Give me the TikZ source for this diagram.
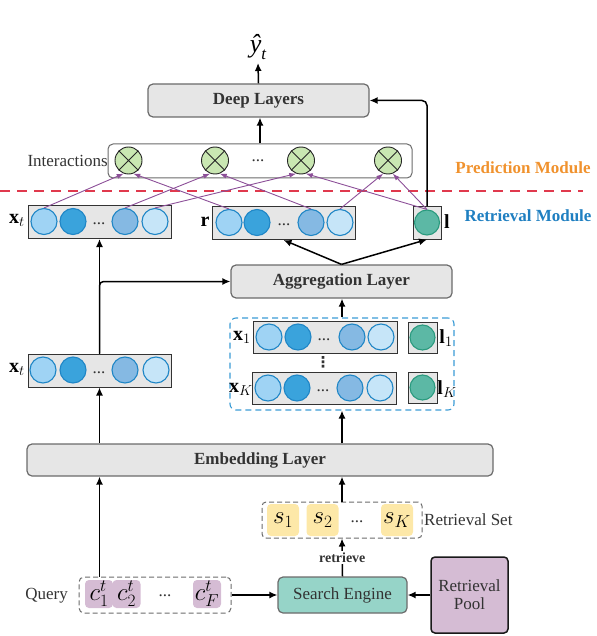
\documentclass[tikz,border=0pt]{standalone}
\usepackage{fontspec}
\setmainfont{Liberation Serif}
\newfontfamily\dejavu{DejaVu Sans}
\usetikzlibrary{arrows.meta,calc}
\definecolor{boxfill}{HTML}{E6E6E6}
\definecolor{boxdraw}{HTML}{6B6B6B}
\definecolor{txt}{HTML}{333333}
\definecolor{cA}{HTML}{9FD3F4}
\definecolor{cB}{HTML}{3AA3DC}
\definecolor{cC}{HTML}{85B9E3}
\definecolor{cD}{HTML}{C6E5F8}
\definecolor{cBorder}{HTML}{1F86C6}
\definecolor{gFill}{HTML}{5CB8A5}
\definecolor{gBorder}{HTML}{2A9A7E}
\definecolor{oFill}{HTML}{C9E7B2}
\definecolor{purp}{HTML}{8C4F98}
\definecolor{redd}{HTML}{E0394D}
\definecolor{orng}{HTML}{F0922E}
\definecolor{blu}{HTML}{1F7FC1}
\definecolor{dblu}{HTML}{3A9BD5}
\definecolor{seFill}{HTML}{96D4C8}
\definecolor{plFill}{HTML}{D5BCD4}
\definecolor{sFill}{HTML}{FDE8A8}
\newcommand\fs{\fontsize{17}{20}\selectfont}
\tikzset{
  layer/.style={draw=boxdraw, fill=boxfill, rounded corners=5pt, line width=1.2pt, font=\fs\bfseries, text=txt, inner sep=0pt},
  vbox/.style={draw=txt, fill=boxfill, line width=1pt, inner sep=0pt},
  vc/.style={circle, draw=cBorder, line width=1.1pt, minimum size=26pt, inner sep=0pt},
  gc/.style={circle, draw=gBorder, fill=gFill, line width=1.1pt, minimum size=25pt, inner sep=0pt},
  oc/.style={circle, draw=black!85, fill=oFill, line width=0.9pt, minimum size=27pt, inner sep=0pt},
  lbl/.style={font=\fs, text=txt, inner sep=0pt},
  mlbl/.style={font=\fontsize{20}{22}\selectfont, text=black, inner sep=0pt},
  arr/.style={line width=1.5pt, -{Latex[length=8pt,width=7pt]}},
  parr/.style={draw=purp, line width=0.9pt, -{Latex[length=7pt,width=5pt]}},
  dots/.style={font=\fs, text=txt, inner sep=0pt},
  sbox/.style={fill=sFill, rounded corners=4pt, minimum width=32pt, minimum height=32pt, inner sep=0pt, font=\fontsize{26}{28}\selectfont},
  cbox/.style={fill=plFill, rounded corners=4pt, minimum width=28pt, minimum height=28pt, inner sep=0pt, font=\fontsize{24}{26}\selectfont},
}
\begin{document}
\begin{tikzpicture}[x=1pt,y=-1pt]
\useasboundingbox (0,0) rectangle (596,636);

% ---------- top ----------
\node[mlbl, font=\fontsize{26}{28}\selectfont\itshape] (yhat) at (258,47) {ŷ\raisebox{-0.25em}{\fontsize{17}{17}\selectfont\itshape t}};
\node[layer, minimum width=221pt, minimum height=33pt] (deep) at (258.5,100.5) {Deep Layers};

\node[draw=boxdraw, fill=white, rounded corners=5pt, line width=1pt, minimum width=304pt, minimum height=34pt] (inter) at (260,161) {};
\node[lbl, anchor=east] (interl) at (108,161) {Interactions};
\node[oc] (o1) at (128.5,160.5) {};
\node[oc] (o2) at (215,160.5) {};
\node[oc] (o3) at (301,160.5) {};
\node[oc] (o4) at (388,160.5) {};
\foreach \o in {o1,o2,o3,o4}{
  \draw[line width=0.9pt, black!85] (\o.north east) -- (\o.south west) (\o.north west) -- (\o.south east);
}
\node[dots] (idots) at (258,161) {...};

% prediction / retrieval separator
\coordinate (dl) at (0,191);
\coordinate (dr) at (583,191);
\draw[redd, line width=1.2pt, dash pattern=on 10pt off 7pt] (dl) -- (dr);
\node[font=\fs\bfseries, text=orng, inner sep=0pt] (pm) at (523,168) {Prediction Module};
\node[font=\fs\bfseries, text=blu, inner sep=0pt] (rm) at (528,216) {Retrieval Module};

% ---------- vectors row ----------
\node[vbox, minimum width=143pt, minimum height=33pt] (xtt) at (99.5,222) {};
\node[vc, fill=cA] (xt1) at (44,221.5) {};
\node[vc, fill=cB] (xt2) at (73,221.5) {};
\node[dots] at (99,224) {...};
\node[vc, fill=cC] (xt3) at (125,221.5) {};
\node[vc, fill=cD] (xt4) at (155,221.5) {};
\node[mlbl] (xttl) at (17,220) {$\mathbf{x}_t$};

\node[vbox, minimum width=143pt, minimum height=33pt] (rbox) at (283.5,223) {};
\node[vc, fill=cA] (r1) at (229,222.5) {};
\node[vc, fill=cB] (r2) at (257,222.5) {};
\node[dots] at (284,225) {...};
\node[vc, fill=cC] (r3) at (311,222.5) {};
\node[vc, fill=cD] (r4) at (340,222.5) {};
\node[mlbl] (rl) at (205,222) {$\mathbf{r}$};

\node[vbox, minimum width=28pt, minimum height=32pt] (lbox) at (427,223) {};
\node[gc] (lc) at (427,222.5) {};
\node[mlbl] (ll) at (447,222) {$\mathbf{l}$};

% purple interaction arrows
\draw[parr] (xt1.north) -- (o1.-110);
\draw[parr] (r1.north) -- (o1.-70);
\draw[parr] (xt3.north) -- (o2.-110);
\draw[parr] (r3.north) -- (o2.-70);
\draw[parr] (xt4.north) -- (o3.-110);
\draw[parr] (lc.north) -- (o3.-70);
\draw[parr] (r4.north) -- (o4.-110);
\draw[parr] (lc.north) -- (o4.-70);

% ---------- aggregation ----------
\node[layer, minimum width=221pt, minimum height=33pt] (agg) at (341.5,281.5) {Aggregation Layer};

\node[draw=dblu, line width=1.1pt, dash pattern=on 6pt off 4pt, rounded corners=6pt, minimum width=224pt, minimum height=92pt] (ret) at (342,364) {};
\node[vbox, minimum width=144pt, minimum height=32pt] (x1b) at (325,337) {};
\node[vc, fill=cA] (x11) at (269,337) {};
\node[vc, fill=cB] (x12) at (298,337) {};
\node[dots] at (324,339.5) {...};
\node[vc, fill=cC] (x13) at (352,337) {};
\node[vc, fill=cD] (x14) at (381,337) {};
\node[mlbl] (x1l) at (242,337) {$\mathbf{x}_1$};
\node[vbox, minimum width=29pt, minimum height=31pt] (l1b) at (422.5,337.5) {};
\node[gc] (l1c) at (422.5,337.5) {};
\node[mlbl] (l1l) at (446,338) {$\mathbf{l}_1$};

\node[font=\dejavu\fontsize{15}{15}\selectfont\bfseries, text=txt, inner sep=0pt] (vd) at (323,362) {⋮};

\node[vbox, minimum width=144pt, minimum height=32pt] (xKb) at (324,388) {};
\node[vc, fill=cA] (xK1) at (268,388) {};
\node[vc, fill=cB] (xK2) at (297,388) {};
\node[dots] at (323,390.5) {...};
\node[vc, fill=cC] (xK3) at (350,388) {};
\node[vc, fill=cD] (xK4) at (380,388) {};
\node[mlbl] (xKl) at (241,389) {$\mathbf{x}_K$};
\node[vbox, minimum width=29pt, minimum height=31pt] (lKb) at (422.5,387.5) {};
\node[gc] (lKc) at (422.5,387.5) {};
\node[mlbl] (lKl) at (447,389) {$\mathbf{l}_K$};

% lower x_t
\node[vbox, minimum width=143pt, minimum height=33pt] (xtl) at (99.5,370.5) {};
\node[vc, fill=cA] (y1) at (43,370) {};
\node[vc, fill=cB] (y2) at (73,370) {};
\node[dots] at (99,372.5) {...};
\node[vc, fill=cC] (y3) at (125,370) {};
\node[vc, fill=cD] (y4) at (156,370) {};
\node[mlbl] (xtll) at (17,369) {$\mathbf{x}_t$};

% ---------- embedding ----------
\node[layer, minimum width=466pt, minimum height=32pt] (emb) at (260,460) {Embedding Layer};

\node[draw=boxdraw, line width=1pt, dash pattern=on 5pt off 3pt, rounded corners=4pt, minimum width=160pt, minimum height=36pt] (rset) at (342,520) {};
\node[sbox] (s1) at (283,520) {$s_1$};
\node[sbox] (s2) at (322.5,520) {$s_2$};
\node[dots] at (357,522) {...};
\node[sbox] (sK) at (397,520) {$s_K$};
\node[lbl, anchor=west] (rsl) at (424,520) {Retrieval Set};

% ---------- bottom ----------
\node[draw=boxdraw, fill=seFill, rounded corners=5pt, line width=1.2pt, minimum width=129pt, minimum height=36pt, font=\fs, text=txt] (se) at (342.5,595) {Search Engine};
\node[draw=black!90, fill=plFill, rounded corners=4pt, line width=1.5pt, minimum width=77pt, minimum height=76pt, font=\fs, text=txt, align=center] (pool) at (469.5,595) {Retrieval\\[-2pt]Pool};

\node[draw=boxdraw, line width=1pt, dash pattern=on 5pt off 3pt, rounded corners=5pt, minimum width=152pt, minimum height=36pt] (query) at (155,595) {};
\node[cbox] (c1) at (99,594) {$c^t_1$};
\node[cbox] (c2) at (126.5,594) {$c^t_2$};
\node[dots] at (165,596) {...};
\node[cbox] (cF) at (207,594) {$c^t_F$};
\node[lbl, anchor=east] (ql) at (68,596) {Query};

% ---------- black arrows ----------
\draw[arr] (deep.north) -- (258,63);
\draw[arr] (inter.north) -- (inter.north |- deep.south);
\draw[arr, rounded corners=5pt] (lbox.north) |- (deep.east);
\draw[arr] (agg.north) -- (rbox.south);
\draw[arr] (agg.north) -- (lbox.south);
\draw[arr] (xtl.north) -- (xtt.south);
\draw[arr, rounded corners=4pt] (xtl.north) -- (xtl.north |- agg.west) -- (agg.west);
\draw[arr] (ret.north) -- (ret.north |- agg.south);
\draw[arr] (ret.south |- emb.north) -- (ret.south);
\draw[arr] (xtl.south |- emb.north) -- (xtl.south);
\draw[arr] (xtl.south |- query.north) -- (xtl.south |- emb.south);
\draw[arr] (rset.north) -- (rset.north |- emb.south);
\draw[arr] (se.north) -- node[fill=white, inner sep=1.5pt, font=\fontsize{14}{16}\selectfont\bfseries, text=txt] (retr) {retrieve} (rset.south);
\draw[arr] (query.east) -- (se.west);
\draw[arr] (pool.west) -- (se.east);
\end{tikzpicture}
\end{document}
